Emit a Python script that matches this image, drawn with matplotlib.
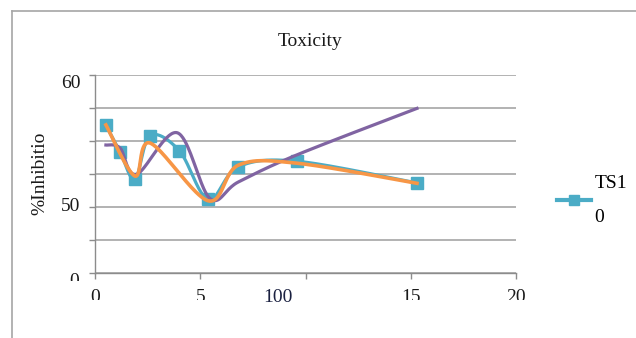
# Toxicity chart (Excel-style smoothed lines)
import numpy as np
import matplotlib.pyplot as plt
from matplotlib.lines import Line2D
from matplotlib.transforms import Bbox, TransformedBbox

plt.rcParams['font.family'] = ['Liberation Serif', 'DejaVu Serif']

# data (y in gridline units x10)
ts10_x = [0.5, 1.17, 1.88, 2.6, 3.99, 5.37, 6.8, 9.58, 15.3]
ts10_y = [44.7, 36.7, 28.3, 41.5, 37.0, 22.2, 32.1, 33.8, 27.2]

purple_x = [0.5, 1.17, 1.95, 3.9, 5.45, 6.8, 9.58, 15.3]
purple_y = [38.7, 37.8, 29.8, 42.4, 22.5, 27.5, 35.7, 49.8]

orange_x = [0.5, 1.88, 2.6, 5.37, 6.8, 9.58, 15.3]
orange_y = [44.8, 29.3, 39.3, 21.8, 32.6, 33.2, 27.1]

x_ticks = [0, 5, 10, 15, 20]
x_labels = ['0', '5', '', '15', '20']
y_ticks = [0, 10, 20, 30, 40, 50, 60]

TEAL = '#4BACC6'
PURPLE = '#8064A2'
ORANGE = '#F79646'
GRID = '#A6A6A6'


def smooth(xs, ys, n=40):  # Bezier through points, like Excel "smoothed line"
    p = np.column_stack([xs, ys]).astype(float)
    out = []
    for i in range(len(p) - 1):
        p0 = p[max(i - 1, 0)]
        p1, p2 = p[i], p[i + 1]
        p3 = p[min(i + 2, len(p) - 1)]
        c1 = p1 + (p2 - p0) / 6
        c2 = p2 - (p3 - p1) / 6
        t = np.linspace(0, 1, n)[:, None]
        seg = ((1 - t) ** 3) * p1 + 3 * ((1 - t) ** 2) * t * c1 \
            + 3 * (1 - t) * t ** 2 * c2 + t ** 3 * p2
        out.append(seg if i == 0 else seg[1:])
    out = np.vstack(out)
    return out[:, 0], out[:, 1]


fig = plt.figure(figsize=(6.36, 3.38), dpi=100)
ax = fig.add_axes([0.150, 0.193, 0.661, 0.586])

sx, sy = smooth(ts10_x, ts10_y)
ax.plot(sx, sy, color=TEAL, lw=2.3, zorder=3)
ax.plot(ts10_x, ts10_y, ls='none', marker='s', ms=9, color=TEAL, zorder=3)
sx, sy = smooth(purple_x, purple_y)
ax.plot(sx, sy, color=PURPLE, lw=2.3, zorder=4)
sx, sy = smooth(orange_x, orange_y)
ax.plot(sx, sy, color=ORANGE, lw=2.6, zorder=5)

ax.set_xlim(0, 20)
ax.set_ylim(0, 60)
ax.set_xticks(x_ticks, x_labels)
ax.set_yticks(y_ticks, [''] * len(y_ticks))
ax.grid(axis='y', color=GRID, lw=1.2)
ax.set_axisbelow(True)
for s in ['top', 'right']:
    ax.spines[s].set_visible(False)
for s in ['left', 'bottom']:
    ax.spines[s].set_color('#8C8C8C')
    ax.spines[s].set_linewidth(1.0)
ax.tick_params(axis='both', color='#8C8C8C', length=4, width=1.0)
ax.tick_params(axis='x', pad=8, labelsize=14, labelcolor='#1a1a1a')

# x labels are cut off at the bottom in the original
clip = TransformedBbox(Bbox([[0, 38 / 338], [1, 1]]), fig.transFigure)
for lab in ax.get_xticklabels():
    lab.set_clip_on(True)
    lab.set_clip_box(clip)
fig.text(278 / 636, 1 - 298 / 338, '100', fontsize=14, color='#1a2040',
         ha='center', va='center')

# y labels
ax.text(-0.035, 60, '60', transform=ax.get_yaxis_transform(), fontsize=14,
        ha='right', va='top', color='#1a1a1a')
ax.text(-0.035, 20, '50', transform=ax.get_yaxis_transform(), fontsize=14,
        ha='right', va='center', color='#1a1a1a')
t0 = ax.text(-0.04, 0, '0', transform=ax.get_yaxis_transform(), fontsize=14,
             ha='right', va='top', color='#1a1a1a')
t0.set_clip_on(True)
t0.set_clip_box(TransformedBbox(Bbox([[0, 1 - 281 / 338], [1, 1]]), fig.transFigure))

fig.text(40 / 636, 1 - 173 / 338, '%Inhibitio', rotation=90, fontsize=14,
         ha='center', va='center', color='#1a1a1a')
fig.text(310 / 636, 1 - 41 / 338, 'Toxicity', fontsize=14,
         ha='center', va='center', color='#1a1a1a')

# legend
h = Line2D([], [], color=TEAL, lw=3, marker='s', ms=7)
leg = ax.legend([h], ['TS1\n0'], loc='center left', bbox_to_anchor=(1.057, 0.365),
                frameon=False, fontsize=14, handlelength=1.75, handletextpad=0.15)
leg.get_texts()[0].set_linespacing(2.3)

# chart border
fig.add_artist(Line2D([12 / 636, 1], [1 - 11 / 338] * 2, color='#A6A6A6',
                      lw=1.2, transform=fig.transFigure))
fig.add_artist(Line2D([12 / 636] * 2, [0, 1 - 11 / 338], color='#A6A6A6',
                      lw=1.2, transform=fig.transFigure))

fig.savefig('out.png', dpi=100)
